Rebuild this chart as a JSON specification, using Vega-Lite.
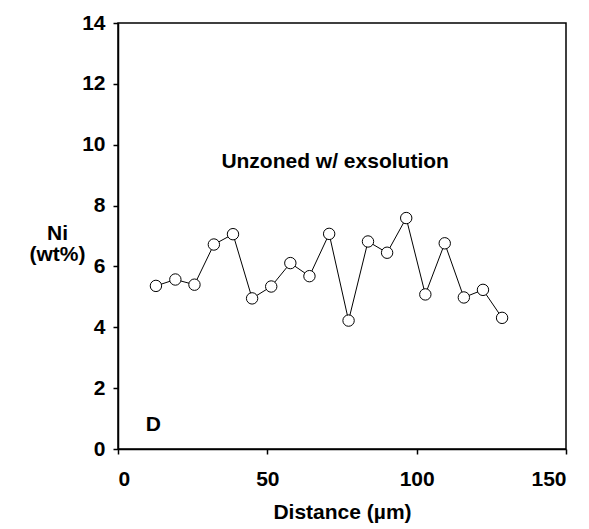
{
  "$schema": "https://vega.github.io/schema/vega-lite/v6.json",
  "width": 448,
  "height": 426,
  "autosize": {"type": "none"},
  "padding": {"left": 118, "top": 23, "right": 23, "bottom": 80},
  "background": "white",
  "config": {
    "view": {"stroke": "black", "strokeWidth": 1.5},
    "font": "Liberation Sans",
    "axis": {
      "grid": false,
      "domainColor": "black",
      "domainWidth": 1.5,
      "tickColor": "black",
      "tickWidth": 1.5,
      "tickSize": 5,
      "labelFont": "Liberation Sans",
      "labelFontWeight": "bold",
      "labelFontSize": 21,
      "labelColor": "black",
      "titleFont": "Liberation Sans",
      "titleFontWeight": "bold",
      "titleFontSize": 21,
      "titleColor": "black"
    }
  },
  "datasets": {
    "pts": [
      {"d": 12.7, "ni": 5.36},
      {"d": 19.2, "ni": 5.57},
      {"d": 25.6, "ni": 5.40},
      {"d": 32.1, "ni": 6.72},
      {"d": 38.5, "ni": 7.06},
      {"d": 44.9, "ni": 4.95},
      {"d": 51.3, "ni": 5.34},
      {"d": 57.7, "ni": 6.11},
      {"d": 64.1, "ni": 5.68},
      {"d": 70.7, "ni": 7.07},
      {"d": 77.2, "ni": 4.22},
      {"d": 83.7, "ni": 6.82},
      {"d": 90.1, "ni": 6.45},
      {"d": 96.5, "ni": 7.59},
      {"d": 102.9, "ni": 5.08},
      {"d": 109.4, "ni": 6.76},
      {"d": 115.8, "ni": 4.98},
      {"d": 122.2, "ni": 5.23},
      {"d": 128.6, "ni": 4.31}
    ],
    "labels": [
      {"d": 72.7, "ni": 9.42, "t": "Unzoned w/ exsolution"},
      {"d": 11.8, "ni": 0.8, "t": "D"}
    ]
  },
  "layer": [
    {
      "data": {"name": "pts"},
      "mark": {"type": "line", "color": "black", "strokeWidth": 1},
      "encoding": {
        "x": {
          "field": "d", "type": "quantitative",
          "scale": {"domain": [0, 150], "nice": false},
          "axis": {"values": [0, 50, 100, 150], "title": "Distance (µm)", "labelPadding": 14, "titleY": 69, "titleBaseline": "alphabetic"}
        },
        "y": {
          "field": "ni", "type": "quantitative",
          "scale": {"domain": [0, 14], "nice": false},
          "axis": {"values": [0, 2, 4, 6, 8, 10, 12, 14], "title": ["Ni", "(wt%)"], "titleAngle": 0, "titleAlign": "center", "titleX": -61, "titleY": 216, "titleBaseline": "alphabetic", "titleLineHeight": 21, "labelPadding": 8}
        }
      }
    },
    {
      "data": {"name": "pts"},
      "mark": {"type": "point", "shape": "circle", "filled": true, "fill": "white", "stroke": "black", "strokeWidth": 1, "size": 130, "opacity": 1},
      "encoding": {
        "x": {"field": "d", "type": "quantitative"},
        "y": {"field": "ni", "type": "quantitative"}
      }
    },
    {
      "data": {"name": "labels"},
      "mark": {"type": "text", "font": "Liberation Sans", "fontWeight": "bold", "fontSize": 21, "color": "black", "align": "center", "baseline": "middle"},
      "encoding": {
        "x": {"field": "d", "type": "quantitative"},
        "y": {"field": "ni", "type": "quantitative"},
        "text": {"field": "t"}
      }
    }
  ]
}
